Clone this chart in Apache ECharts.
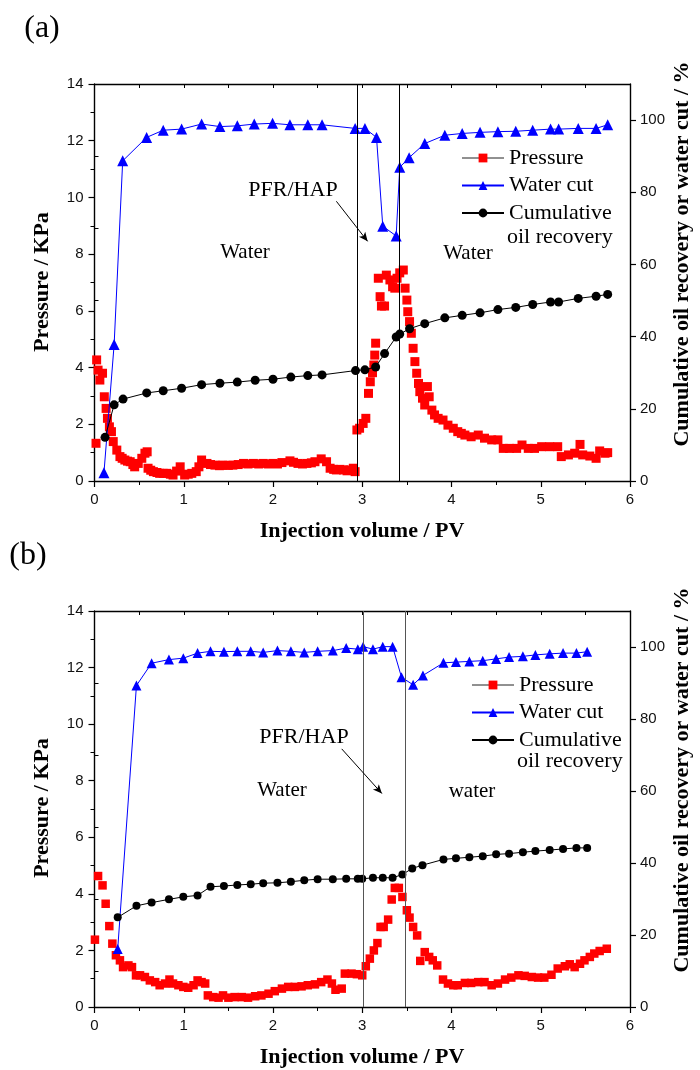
<!DOCTYPE html>
<html>
<head>
<meta charset="utf-8">
<script src="https://cdn.jsdelivr.net/npm/echarts@6/dist/echarts.min.js"></script>
<style>
html,body{margin:0;padding:0;background:#fff}
#chart{width:700px;height:1070px}
</style>
</head>
<body>
<div id="chart"></div>
<script>
// ---------- Panel (a): [injection volume PV, value] ----------
const pressureA = [
  [0.017,1.33],[0.024,4.27],[0.04,3.91],[0.06,3.56],[0.09,3.80],[0.11,2.97],[0.13,2.56],[0.145,2.21],
  [0.167,1.91],[0.19,1.74],[0.21,1.39],[0.25,1.09],[0.285,0.86],[0.31,0.80],[0.34,0.74],[0.37,0.70],
  [0.40,0.68],[0.43,0.58],[0.45,0.50],[0.49,0.62],[0.53,0.80],[0.565,0.98],[0.59,1.03],[0.60,0.45],
  [0.63,0.38],[0.66,0.33],[0.70,0.30],[0.73,0.27],[0.77,0.27],[0.81,0.27],[0.85,0.24],[0.88,0.21],
  [0.92,0.35],[0.96,0.50],[1.01,0.21],[1.05,0.24],[1.09,0.27],[1.14,0.33],[1.17,0.50],[1.20,0.74],
  [1.26,0.62],[1.30,0.58],[1.35,0.56],[1.40,0.54],[1.44,0.56],[1.50,0.55],[1.55,0.56],[1.61,0.58],
  [1.67,0.62],[1.72,0.60],[1.78,0.62],[1.84,0.60],[1.89,0.62],[1.95,0.60],[2.0,0.62],[2.05,0.60],
  [2.10,0.65],[2.19,0.71],[2.23,0.66],[2.28,0.62],[2.33,0.60],[2.38,0.62],[2.43,0.64],[2.47,0.68],
  [2.54,0.78],[2.60,0.68],[2.64,0.45],[2.68,0.41],[2.71,0.39],[2.75,0.41],[2.79,0.39],[2.83,0.36],
  [2.86,0.39],[2.90,0.45],[2.92,0.33],[2.94,1.80],[2.97,1.86],[3.01,2.03],[3.04,2.21],[3.07,3.09],
  [3.09,3.50],[3.115,3.82],[3.13,4.09],[3.14,4.44],[3.15,4.86],[3.18,7.15],[3.20,6.50],[3.215,6.17],
  [3.25,6.17],[3.27,7.26],[3.31,7.09],[3.34,6.85],[3.365,6.80],[3.39,7.15],[3.42,7.34],[3.46,7.44],
  [3.48,6.80],[3.50,6.38],[3.51,5.97],[3.53,5.62],[3.55,5.21],[3.57,4.68],[3.59,4.21],[3.61,3.80],
  [3.63,3.44],[3.645,3.15],[3.675,2.92],[3.70,2.68],[3.73,3.33],[3.75,2.97],[3.78,2.50],[3.81,2.33],
  [3.85,2.21],[3.905,2.15],[3.96,1.97],[4.02,1.86],[4.07,1.74],[4.11,1.68],[4.15,1.62],[4.22,1.56],
  [4.30,1.62],[4.37,1.51],[4.45,1.45],[4.52,1.45],[4.58,1.15],[4.65,1.15],[4.73,1.15],[4.79,1.27],
  [4.86,1.15],[4.93,1.15],[5.01,1.21],[5.10,1.21],[5.19,1.21],[5.23,0.86],[5.31,0.92],[5.38,0.98],
  [5.44,1.29],[5.47,0.92],[5.55,0.88],[5.62,0.80],[5.66,1.06],[5.72,0.98],[5.75,1.00]
];
const waterCutA = [
  [0.106,2.3],[0.22,37.8],[0.316,88.7],[0.584,95.2],[0.77,97.2],[0.976,97.5],[1.2,98.9],[1.405,98.2],
  [1.60,98.4],[1.79,98.9],[1.995,99.1],[2.19,98.7],[2.39,98.7],[2.55,98.7],[2.92,97.7],[3.03,97.7],
  [3.16,95.2],[3.23,70.6],[3.38,67.9],[3.42,86.9],[3.525,89.6],[3.70,93.5],[3.925,95.8],[4.12,96.3],
  [4.32,96.6],[4.52,96.8],[4.72,96.9],[4.91,97.2],[5.11,97.5],[5.20,97.5],[5.42,97.7],[5.62,97.7],
  [5.75,98.7]
];
const recoveryA = [
  [0.118,12.1],[0.22,21.1],[0.32,22.7],[0.585,24.4],[0.77,25.0],[0.976,25.7],[1.2,26.7],[1.405,27.1],
  [1.60,27.4],[1.80,27.9],[2.0,28.2],[2.20,28.8],[2.39,29.2],[2.55,29.4],[2.925,30.6],[3.03,30.8],
  [3.15,31.6],[3.25,35.3],[3.38,39.9],[3.42,40.7],[3.53,42.2],[3.70,43.6],[3.925,45.2],[4.12,45.9],
  [4.32,46.6],[4.52,47.5],[4.72,48.1],[4.91,48.9],[5.11,49.6],[5.20,49.6],[5.42,50.6],[5.62,51.2],
  [5.75,51.7]
];
const slugA = [2.94, 3.42];

// ---------- Panel (b) ----------
const pressureB = [
  [0.005,2.38],[0.04,4.63],[0.09,4.30],[0.125,3.65],[0.166,2.86],[0.20,2.24],[0.24,1.83],[0.285,1.65],
  [0.32,1.41],[0.38,1.47],[0.42,1.41],[0.465,1.12],[0.51,1.12],[0.565,1.06],[0.62,0.94],[0.68,0.88],
  [0.73,0.77],[0.79,0.83],[0.84,0.97],[0.88,0.83],[0.94,0.77],[0.995,0.71],[1.05,0.68],[1.11,0.77],
  [1.155,0.94],[1.20,0.88],[1.24,0.83],[1.27,0.41],[1.33,0.35],[1.39,0.33],[1.44,0.41],[1.50,0.33],
  [1.57,0.35],[1.65,0.35],[1.72,0.33],[1.80,0.38],[1.87,0.41],[1.95,0.47],[2.02,0.56],[2.10,0.65],
  [2.17,0.71],[2.245,0.71],[2.32,0.73],[2.39,0.77],[2.47,0.80],[2.54,0.88],[2.61,0.97],[2.66,0.83],
  [2.70,0.61],[2.77,0.65],[2.805,1.18],[2.88,1.18],[2.94,1.16],[3.00,1.12],[3.04,1.44],[3.085,1.71],
  [3.13,2.00],[3.17,2.26],[3.205,2.83],[3.24,2.83],[3.29,3.09],[3.33,3.80],[3.365,4.21],[3.41,4.21],
  [3.45,3.89],[3.50,3.42],[3.53,3.16],[3.57,2.83],[3.615,2.53],[3.65,1.63],[3.70,1.94],[3.75,1.77],
  [3.79,1.65],[3.84,1.47],[3.905,0.97],[3.96,0.83],[4.02,0.77],[4.07,0.77],[4.15,0.85],[4.22,0.85],
  [4.30,0.88],[4.37,0.88],[4.45,0.77],[4.52,0.83],[4.60,0.97],[4.67,1.04],[4.75,1.12],[4.82,1.10],
  [4.90,1.06],[4.97,1.04],[5.04,1.04],[5.12,1.14],[5.19,1.36],[5.27,1.44],[5.325,1.51],[5.38,1.41],
  [5.44,1.53],[5.49,1.65],[5.55,1.77],[5.60,1.89],[5.66,1.98],[5.74,2.06]
];
const waterCutB = [
  [0.26,16.1],[0.47,89.3],[0.64,95.5],[0.834,96.5],[0.995,96.9],[1.155,98.3],[1.30,98.8],[1.45,98.7],
  [1.60,98.8],[1.75,98.8],[1.89,98.5],[2.05,99.0],[2.20,98.8],[2.35,98.5],[2.50,98.8],[2.67,99.0],
  [2.82,99.7],[2.95,99.4],[3.01,100.1],[3.12,99.4],[3.23,100.1],[3.34,100.1],[3.44,91.6],[3.57,89.5],
  [3.68,92.1],[3.91,95.6],[4.05,95.8],[4.20,96.0],[4.35,96.2],[4.50,96.7],[4.645,97.2],[4.80,97.4],
  [4.94,97.8],[5.10,98.1],[5.25,98.3],[5.40,98.3],[5.52,98.7]
];
const recoveryB = [
  [0.26,24.9],[0.47,28.1],[0.64,29.0],[0.834,29.9],[0.995,30.6],[1.155,31.0],[1.30,33.4],[1.45,33.6],
  [1.60,33.9],[1.75,34.1],[1.89,34.4],[2.05,34.5],[2.20,34.8],[2.35,35.2],[2.50,35.5],[2.67,35.5],
  [2.82,35.6],[2.95,35.6],[3.00,35.6],[3.12,35.9],[3.23,35.9],[3.34,35.9],[3.45,36.8],[3.56,38.5],
  [3.675,39.4],[3.91,41.0],[4.05,41.3],[4.20,41.6],[4.35,41.9],[4.50,42.4],[4.645,42.6],[4.80,43.0],
  [4.94,43.3],[5.10,43.6],[5.25,43.9],[5.40,44.2],[5.52,44.2]
];
const slugB = [3.01, 3.485];

// ---------- Axis ticks ----------
const rightMajorTicks = [0, 20, 40, 60, 80, 100];
const rightMinorTicks = [10, 30, 50, 70, 90];

const SERIF = '"Liberation Serif","Times New Roman",serif';
const SANS = '"Liberation Sans",Arial,sans-serif';
const BLACK = '#000';

const grids = [
  { left: 94.5, right: 70, top: 84, height: 397 },
  { left: 94.5, right: 70, top: 611, height: 396 }
];

function xAxesFor(g) {
  return [
    {
      type: 'value', gridIndex: g, min: 0, max: 6, interval: 1, position: 'bottom',
      axisLine: { onZero: false, lineStyle: { color: BLACK, width: 1.4 } },
      axisTick: { length: 6, lineStyle: { color: BLACK, width: 1.2 } },
      minorTick: { show: true, splitNumber: 2, length: 4, lineStyle: { color: BLACK, width: 1 } },
      axisLabel: { margin: 11, fontFamily: SANS, fontSize: 15, color: '#111' },
      splitLine: { show: false }, minorSplitLine: { show: false }
    },
    {
      type: 'value', gridIndex: g, min: 0, max: 6, interval: 0.5, position: 'top',
      axisLine: { onZero: false, lineStyle: { color: BLACK, width: 1.4 } },
      axisTick: { inside: true, length: 4, lineStyle: { color: BLACK, width: 1 } },
      axisLabel: { show: false }, splitLine: { show: false }
    }
  ];
}

function yAxesFor(g) {
  return [
    {
      type: 'value', gridIndex: g, min: 0, max: 14, interval: 2, position: 'left',
      axisLine: { show: true, onZero: false, lineStyle: { color: BLACK, width: 1.4 } },
      axisTick: { length: 6, lineStyle: { color: BLACK, width: 1.2 } },
      minorTick: { show: true, splitNumber: 2, length: 4, lineStyle: { color: BLACK, width: 1 } },
      axisLabel: { margin: 11, fontFamily: SANS, fontSize: 15, color: '#111' },
      splitLine: { show: false }, minorSplitLine: { show: false }
    },
    {
      type: 'value', gridIndex: g, min: 0, max: 110, interval: 20, position: 'right',
      axisLine: { show: true, onZero: false, lineStyle: { color: BLACK, width: 1.4 } },
      axisTick: { length: 6, customValues: rightMajorTicks, lineStyle: { color: BLACK, width: 1.2 } },
      axisLabel: {
        margin: 10, fontFamily: SANS, fontSize: 15, color: '#111', customValues: rightMajorTicks,
        formatter: v => (v <= 100 ? String(v) : '')
      },
      splitLine: { show: false }
    },
    {
      type: 'value', gridIndex: g, min: 0, max: 110, interval: 10, position: 'right',
      axisLine: { show: false },
      axisTick: { length: 4, customValues: rightMinorTicks, lineStyle: { color: BLACK, width: 1 } },
      axisLabel: { show: false }, splitLine: { show: false }
    }
  ];
}

function panelSeries(g, pressure, waterCut, recovery, slug, lineColor, arrow, sizes) {
  const xi = g * 2, yl = g * 3, yr = g * 3 + 1;
  return [
    {
      name: 'Pressure', type: 'line', xAxisIndex: xi, yAxisIndex: yl, data: pressure,
      symbol: 'rect', symbolSize: sizes.rect, showAllSymbol: true,
      itemStyle: { color: '#ff0000' }, lineStyle: { opacity: 0 },
      markLine: {
        silent: true, symbol: 'none', label: { show: false },
        lineStyle: { color: lineColor, width: 1, type: 'solid' },
        data: slug.map(v => ({ xAxis: v }))
      },
      z: 2
    },
    {
      name: 'Water cut', type: 'line', xAxisIndex: xi, yAxisIndex: yr, data: waterCut,
      symbol: 'triangle', symbolSize: sizes.tri, showAllSymbol: true,
      itemStyle: { color: '#0000ff' }, lineStyle: { color: '#0000ff', width: 1 },
      markLine: {
        silent: true, symbol: ['none', 'arrow'], symbolSize: [6, 9], label: { show: false },
        lineStyle: { color: BLACK, width: 1, type: 'solid' },
        data: [[{ coord: arrow[0] }, { coord: arrow[1] }]]
      },
      z: 3
    },
    {
      name: 'Cumulative oil recovery', type: 'line', xAxisIndex: xi, yAxisIndex: yr, data: recovery,
      symbol: 'circle', symbolSize: sizes.dot, showAllSymbol: true,
      itemStyle: { color: BLACK }, lineStyle: { color: BLACK, width: 1 },
      z: 4
    }
  ];
}

function legendAt(left, top) {
  return {
    orient: 'vertical', left, top, itemWidth: 42, itemHeight: 11, itemGap: 5.5,
    selectedMode: false,
    data: [
      { name: 'Pressure', lineStyle: { opacity: 1, color: '#222', width: 1 } },
      { name: 'Water cut' },
      { name: 'Cumulative oil recovery' }
    ],
    formatter: n => (n === 'Cumulative oil recovery' ? 'Cumulative' : n),
    textStyle: { fontFamily: SERIF, fontSize: 22, color: BLACK, lineHeight: 22 }
  };
}

function label(x, y, text, size, align) {
  return {
    type: 'text', x, y, silent: true,
    style: { text, fontFamily: SERIF, fontSize: size, fill: BLACK, align: align || 'center', verticalAlign: 'middle' }
  };
}
function title(x, y, text, rotated) {
  return {
    type: 'text', x, y, silent: true, rotation: rotated ? Math.PI / 2 : 0,
    style: { text, fontFamily: SERIF, fontSize: 22, fontWeight: 'bold', fill: BLACK, align: 'center', verticalAlign: 'middle' }
  };
}

const chart = echarts.init(document.getElementById('chart'), null, { renderer: 'canvas' });
chart.setOption({
  animation: false,
  backgroundColor: '#fff',
  grid: grids.map(g => Object.assign({ outerBoundsMode: 'none' }, g)),
  xAxis: [...xAxesFor(0), ...xAxesFor(1)],
  yAxis: [...yAxesFor(0), ...yAxesFor(1)],
  legend: [legendAt(456, 142), legendAt(466, 669)],
  series: [
    ...panelSeries(0, pressureA, waterCutA, recoveryA, slugA, BLACK,
      [[2.71, 77.5], [3.06, 66.4]], { rect: 9, tri: 11, dot: 9 }),
    ...panelSeries(1, pressureB, waterCutB, recoveryB, slugB, '#555',
      [[2.77, 71.7], [3.22, 59.3]], { rect: 8.5, tri: 10, dot: 8 })
  ],
  graphic: [
    label(42, 29, '(a)', 32),
    label(28, 556, '(b)', 32),
    title(362, 531, 'Injection volume / PV', false),
    title(362, 1057, 'Injection volume / PV', false),
    title(42, 282, 'Pressure / KPa', true),
    title(42, 808, 'Pressure / KPa', true),
    title(682, 254, 'Cumulative oil recovery or water cut / %', true),
    title(682, 780, 'Cumulative oil recovery or water cut / %', true),
    label(293, 190, 'PFR/HAP', 22),
    label(245, 252, 'Water', 21),
    label(468, 253, 'Water', 21),
    label(304, 737, 'PFR/HAP', 22),
    label(282, 790, 'Water', 21),
    label(472, 791, 'water', 21),
    label(507, 237, 'oil recovery', 22, 'left'),
    label(517, 761, 'oil recovery', 22, 'left')
  ]
});
</script>
</body>
</html>
